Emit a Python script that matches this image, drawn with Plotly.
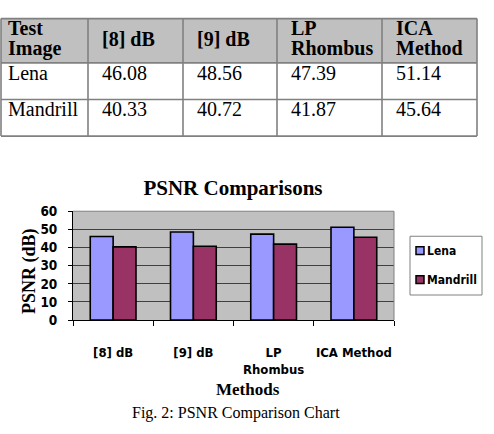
import plotly.graph_objects as go

# ---------------- data ----------------
methods = ["[8] dB", "[9] dB", "LP Rhombus", "ICA Method"]
chart_labels = ["[8] dB", "[9] dB", "LP<br>Rhombus", "ICA Method"]
images = ["Lena", "Mandrill"]
lena_psnr = [46.08, 48.56, 47.39, 51.14]
mandrill_psnr = [40.33, 40.72, 41.87, 45.64]
header_lines = [["Test", "Image"], ["[8] dB"], ["[9] dB"], ["LP", "Rhombus"], ["ICA", "Method"]]
y_ticks = [0, 10, 20, 30, 40, 50, 60]
series_names = ["Lena", "Mandrill"]

# ---------------- style ----------------
W, H = 494, 434
SERIF = "Liberation Serif, Times New Roman, serif"
SANS = "DejaVu Sans Condensed, DejaVu Sans, Verdana, sans-serif"
colors = ["#9999FF", "#993366"]


def px(x):
    return x / W


def py(y):
    return 1 - y / H


fig = go.Figure()

# ---------------- bars ----------------
for name, vals, col in zip(series_names, [lena_psnr, mandrill_psnr], colors):
    fig.add_trace(go.Bar(
        x=chart_labels, y=vals, name=name, showlegend=False,
        marker=dict(color=col, line=dict(color="black", width=1.6)),
        hoverinfo="x+y+name",
    ))

shapes = []
annotations = []

# ---------------- table ----------------
col_edges = [1, 88, 183, 277, 382, 477]
row_edges = [11, 57, 95, 133]
tcol = "#808080"
shapes.append(dict(type="rect", xref="paper", yref="paper",
                   x0=px(col_edges[0]), x1=px(col_edges[-1]),
                   y0=py(row_edges[1]), y1=py(row_edges[0]),
                   fillcolor="#C0C0C0", line=dict(width=0), layer="below"))
for ry in row_edges:
    shapes.append(dict(type="line", xref="paper", yref="paper",
                       x0=px(col_edges[0]), x1=px(col_edges[-1]), y0=py(ry), y1=py(ry),
                       line=dict(color=tcol, width=1.6)))
for cx in col_edges:
    shapes.append(dict(type="line", xref="paper", yref="paper",
                       x0=px(cx), x1=px(cx), y0=py(row_edges[0]), y1=py(row_edges[-1]),
                       line=dict(color=tcol, width=1.6)))

pads = [5, 12, 12, 12, 12]
for i, lines in enumerate(header_lines):
    ys = [20.5, 42] if len(lines) == 2 else [32.5]
    for t, yy in zip(lines, ys):
        annotations.append(dict(text=t, x=px(col_edges[i] + pads[i]), y=py(yy),
                                xref="paper", yref="paper", xanchor="left", yanchor="middle",
                                showarrow=False,
                                font=dict(family=SERIF, size=20, color="black", weight="bold")))

row_text_y = [68, 104.5]
for r, (img, vals) in enumerate(zip(images, [lena_psnr, mandrill_psnr])):
    cells = [img] + ["%.2f" % v for v in vals]
    for i, t in enumerate(cells):
        annotations.append(dict(text=t, x=px(col_edges[i] + pads[i]), y=py(row_text_y[r]),
                                xref="paper", yref="paper", xanchor="left", yanchor="middle",
                                showarrow=False,
                                font=dict(family=SERIF, size=20, color="black")))

# ---------------- plot border (top/right gray) ----------------
shapes.append(dict(type="line", xref="x domain", yref="y domain", x0=0, x1=1, y0=1, y1=1,
                   line=dict(color="#808080", width=1)))
shapes.append(dict(type="line", xref="x domain", yref="y domain", x0=1, x1=1, y0=0, y1=1,
                   line=dict(color="#808080", width=1)))

# ---------------- legend (drawn) ----------------
lg_x0, lg_x1, lg_y0, lg_y1 = 410, 482, 237, 298
shapes.append(dict(type="rect", xref="paper", yref="paper",
                   x0=px(lg_x0), x1=px(lg_x1), y0=py(lg_y1), y1=py(lg_y0),
                   fillcolor="white", line=dict(color="#808080", width=1)))
for name, col, cy in zip(series_names, colors, [252, 282]):
    shapes.append(dict(type="rect", xref="paper", yref="paper",
                       x0=px(416), x1=px(424), y0=py(cy + 4), y1=py(cy - 4),
                       fillcolor=col, line=dict(color="black", width=1.5)))
    annotations.append(dict(text=name, x=px(425), y=py(cy), xref="paper", yref="paper",
                            xanchor="left", yanchor="middle", showarrow=False,
                            font=dict(family=SANS, size=12, color="black", weight="bold")))

# ---------------- axis titles & caption ----------------
annotations.append(dict(text="PSNR (dB)", x=px(30), y=py(273), xref="paper", yref="paper",
                        textangle=-90, xanchor="center", yanchor="middle", showarrow=False,
                        font=dict(family=SERIF, size=18, color="black", weight="bold")))
annotations.append(dict(text="Methods", x=px(248), y=py(396), xref="paper", yref="paper",
                        xanchor="center", yanchor="middle", showarrow=False,
                        font=dict(family=SERIF, size=17, color="black", weight="bold")))
annotations.append(dict(text="Fig. 2: PSNR Comparison Chart", x=px(236), y=py(420),
                        xref="paper", yref="paper", xanchor="center", yanchor="middle",
                        showarrow=False, font=dict(family=SERIF, size=16, color="black")))

fig.update_layout(
    width=W, height=H,
    margin=dict(l=0, r=0, t=0, b=0),
    paper_bgcolor="white",
    plot_bgcolor="#C0C0C0",
    barmode="group", bargap=0.43, bargroupgap=0,
    title=dict(text="PSNR Comparisons", x=px(233), y=py(186.5), xanchor="center",
               yanchor="middle", xref="paper", yref="paper",
               font=dict(family=SERIF, size=21, color="black", weight="bold")),
    xaxis=dict(domain=[px(73), px(394)], type="category", showline=True, linecolor="black",
               linewidth=1, ticks="outside", tickson="boundaries", ticklen=5,
               tickcolor="black", showgrid=False, ticklabelstandoff=20, tickangle=0,
               tickfont=dict(family=SANS, size=13, color="black", weight="bold")),
    yaxis=dict(domain=[py(324), py(211)], range=[0, 60], tickvals=y_ticks,
               showline=True, linecolor="black", linewidth=1, ticks="outside", ticklen=4,
               tickcolor="black", showgrid=True, gridcolor="#404040", gridwidth=1,
               zeroline=False, ticklabelstandoff=8,
               tickfont=dict(family=SANS, size=13.5, color="black", weight="bold")),
    shapes=shapes,
    annotations=annotations,
)

fig.write_html("out.html")
